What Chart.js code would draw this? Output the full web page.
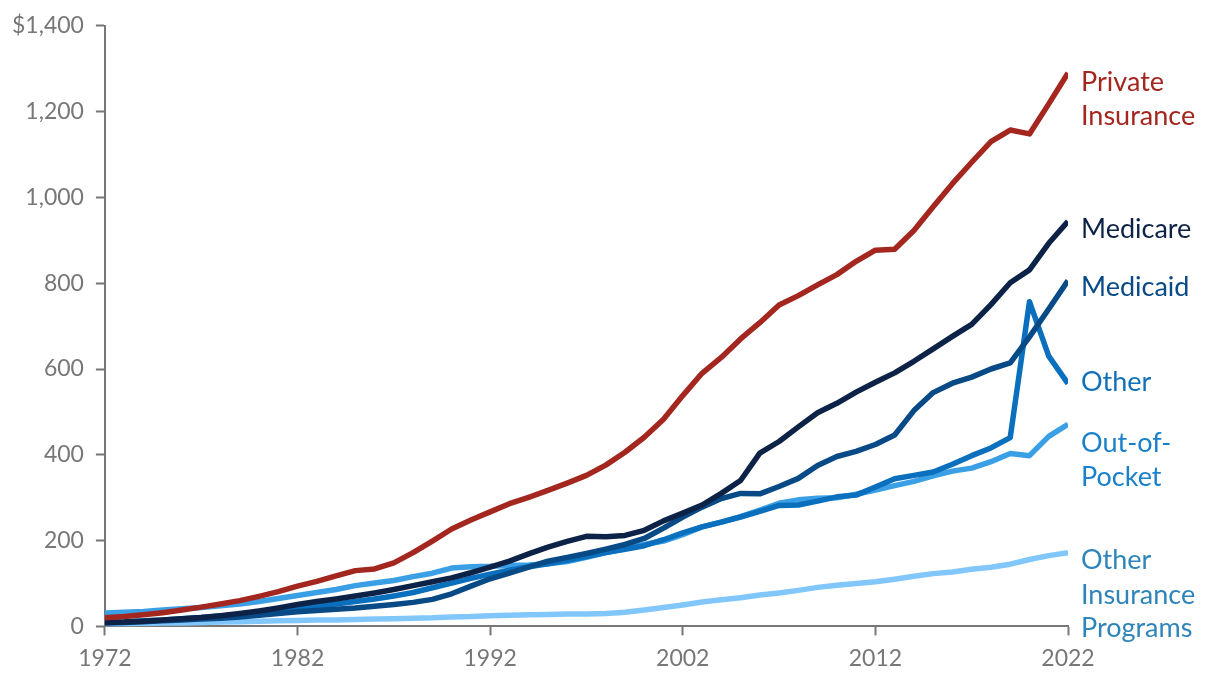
<!DOCTYPE html>
<html>
<head>
<meta charset="utf-8">
<script src="https://cdn.jsdelivr.net/npm/chart.js@4.4.1/dist/chart.umd.min.js"></script>
<style>
  html, body { margin: 0; padding: 0; background: #ffffff; }
  #wrap { width: 1220px; height: 688px; position: relative; }
</style>
</head>
<body>
<div id="wrap"><canvas id="c"></canvas></div>
<script>
const years = [];
for (let y = 1972; y <= 2022; y++) years.push(y);

const privateInsurance = [20,23,27,32,38,45,52,60,70,81,94,105,118,130,134,148,172,199,227,248,267,286,301,317,334,352,376,406,441,483,538,590,627,670,708,749,771,796,820,851,877,879,923,978,1032,1082,1130,1157,1148,1218,1290];
const medicare = [9,10,12,15,18,21,25,30,36,43,51,58,64,71,78,86,95,104,113,125,138,152,169,185,198,210,209,212,224,246,264,283,310,340,404,431,465,498,520,546,569,591,618,647,676,704,750,801,831,893,944];
const medicaid = [8,9,11,13,15,17,19,22,26,30,34,37,40,43,47,51,56,63,76,94,111,124,138,152,161,170,180,191,205,229,255,278,298,310,309,326,345,375,396,408,424,446,503,545,567,581,600,614,675,740,806];
const other = [10,11,13,15,18,21,24,28,32,37,42,47,52,58,64,71,79,90,101,112,122,131,139,146,154,163,172,180,188,202,218,232,243,255,268,282,283,292,302,306,325,344,352,360,378,398,416,440,757,630,566];
const outOfPocket = [31,33,35,38,41,44,48,52,58,65,72,79,86,95,101,107,116,124,136,139,140,142,143,146,151,161,172,181,191,199,214,232,243,256,271,287,295,299,300,308,318,328,338,351,362,369,384,403,398,443,471];
const otherInsurancePrograms = [6,6,7,8,8,9,10,11,12,13,14,15,15,16,17,18,19,20,22,23,25,26,27,28,29,29,30,33,38,44,50,57,62,67,73,78,84,91,96,100,104,110,117,123,127,133,138,145,156,165,172];

const yTicks = [0,200,400,600,800,1000,1200,1400];
const xTicks = [1972,1982,1992,2002,2012,2022];

const series = [
  { name: ['Private', 'Insurance'], data: privateInsurance, line: '#a3271f', text: '#a3271f', dy: [9, 43] },
  { name: ['Medicare'], data: medicare, line: '#0c2247', text: '#0c2247', dy: [8] },
  { name: ['Medicaid'], data: medicaid, line: '#074a86', text: '#074a86', dy: [7] },
  { name: ['Other'], data: other, line: '#0a6fbd', text: '#1170b8', dy: [-1] },
  { name: ['Out-of-', 'Pocket'], data: outOfPocket, line: '#3b9fe5', text: '#1a80cc', dy: [19, 53] },
  { name: ['Other', 'Insurance', 'Programs'], data: otherInsurancePrograms, line: '#82c7fb', text: '#2f84ba', dy: [8, 43, 76] }
];

const endLabels = {
  id: 'endLabels',
  afterDatasetsDraw(chart) {
    const ctx = chart.ctx;
    const xs = chart.scales.x, ys = chart.scales.y;
    ctx.save();
    ctx.font = '27px Lato, "Noto Sans", sans-serif';
    ctx.textAlign = 'left';
    ctx.textBaseline = 'middle';
    series.forEach(s => {
      const last = s.data[s.data.length - 1];
      const x = xs.getPixelForValue(years[years.length - 1]) + 13;
      const y = ys.getPixelForValue(last);
      ctx.fillStyle = s.text;
      s.name.forEach((t, i) => ctx.fillText(t, x, y + s.dy[i]));
    });
    ctx.restore();
  }
};

const axisColor = '#777777';
const tickFont = { family: 'Lato, "Noto Sans", sans-serif', size: 23 };

new Chart(document.getElementById('c'), {
  type: 'line',
  data: {
    labels: years,
    datasets: series.map(s => ({
      label: s.name.join(' '),
      data: years.map((yr, i) => ({ x: yr, y: s.data[i] })),
      borderColor: s.line,
      backgroundColor: s.line,
      borderWidth: 5.5,
      pointRadius: 0,
      tension: 0,
      fill: false,
      borderCapStyle: 'butt',
      borderJoinStyle: 'round'
    }))
  },
  options: {
    responsive: true,
    maintainAspectRatio: false,
    animation: false,
    layout: { padding: { left: 0, right: 152, top: 15, bottom: 7 } },
    plugins: { legend: { display: false }, tooltip: { enabled: false } },
    scales: {
      x: {
        type: 'linear',
        min: 1972, max: 2022,
        afterBuildTicks: axis => { axis.ticks = xTicks.map(v => ({ value: v })); },
        ticks: { color: axisColor, font: tickFont, padding: 9, maxRotation: 0, callback: v => String(v) },
        grid: { display: true, drawOnChartArea: false, drawTicks: true, tickLength: 9, tickColor: axisColor, tickWidth: 2 },
        border: { display: true, color: axisColor, width: 2 }
      },
      y: {
        min: 0, max: 1400,
        afterBuildTicks: axis => { axis.ticks = yTicks.map(v => ({ value: v })); },
        ticks: { color: axisColor, font: tickFont, padding: 12,
          callback: v => (v === 1400 ? '$' : '') + v.toLocaleString('en-US') },
        grid: { display: true, drawOnChartArea: false, drawTicks: true, tickLength: 9, tickColor: axisColor, tickWidth: 2 },
        border: { display: true, color: axisColor, width: 2 }
      }
    }
  },
  plugins: [endLabels]
});
</script>
</body>
</html>
